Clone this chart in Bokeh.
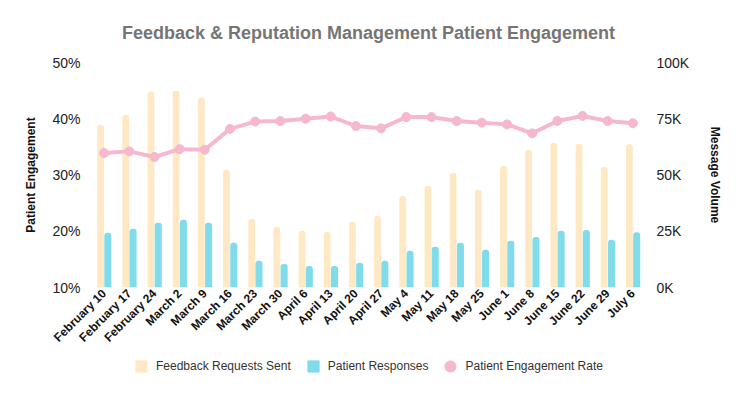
import math
from bokeh.plotting import figure
from bokeh.layouts import column
from bokeh.models import (FactorRange, Range1d, LinearAxis, FixedTicker, Legend,
                          LegendItem, ColumnDataSource, PrintfTickFormatter)
from bokeh.transform import dodge
from bokeh.embed import file_html
from bokeh.resources import INLINE

weeks = ["February 10", "February 17", "February 24", "March 2", "March 9", "March 16",
         "March 23", "March 30", "April 6", "April 13", "April 20", "April 27",
         "May 4", "May 11", "May 18", "May 25", "June 1", "June 8", "June 15",
         "June 22", "June 29", "July 6"]
requests_sent = [72300, 76700, 87000, 87400, 84300, 52300, 30500, 27000, 25200, 24700,
                 29200, 31900, 40700, 45200, 51000, 43400, 54100, 61200, 64300, 63900,
                 53600, 63700]
responses = [24300, 26100, 28800, 30100, 28800, 19900, 11900, 10500, 9600, 9600,
             11000, 11900, 16300, 18100, 19900, 16800, 20800, 22500, 25200, 25600,
             21200, 24600]
engagement = [33.9, 34.2, 33.2, 34.6, 34.5, 38.2, 39.5, 39.6, 40.0, 40.4,
              38.7, 38.3, 40.3, 40.3, 39.6, 39.3, 39.0, 37.4, 39.6, 40.5,
              39.6, 39.2]
pct_ticks = [10, 20, 30, 40, 50]
vol_ticks = [0, 25000, 50000, 75000, 100000]
vol_labels = ["0K", "25K", "50K", "75K", "100K"]
series_names = ["Feedback Requests Sent", "Patient Responses", "Patient Engagement Rate"]

ORANGE = "#FEE9C4"
BLUE = "#80DBEB"
PINK = "#F6B8CF"
FONT = "Liberation Sans"

src = ColumnDataSource(dict(week=weeks, req=requests_sent, resp=responses, eng=engagement))

p = figure(width=742, height=352, x_range=FactorRange(factors=weeks),
           y_range=Range1d(10, 50), output_backend="svg", toolbar_location=None,
           min_border_left=91, min_border_right=97, min_border_top=62, min_border_bottom=65)
p.extra_y_ranges = {"vol": Range1d(0, 100000)}
p.outline_line_color = None
p.xgrid.grid_line_color = None
p.ygrid.grid_line_color = None

p.title.text = "Feedback & Reputation Management Patient Engagement"
p.title.align = "center"
p.title.text_font = FONT
p.title.text_font_size = "18px"
p.title.text_font_style = "bold"
p.title.text_color = "#757575"
p.title.standoff = 39

p.vbar(x=dodge("week", -0.14, range=p.x_range), top="req", width=0.27, source=src,
       y_range_name="vol", fill_color=ORANGE, line_color=None, border_radius=(3, 3, 0, 0))
p.vbar(x=dodge("week", 0.15, range=p.x_range), top="resp", width=0.28, source=src,
       y_range_name="vol", fill_color=BLUE, line_color=None, border_radius=(3, 3, 0, 0))
p.line(x="week", y="eng", source=src, line_color=PINK, line_width=4)
p.scatter(x="week", y="eng", source=src, size=9, fill_color=PINK, line_color=PINK)

# left axis
ax = p.yaxis[0]
ax.ticker = FixedTicker(ticks=pct_ticks)
ax.formatter = PrintfTickFormatter(format="%d%%")
ax.axis_label = "Patient Engagement"

# right axis
rax = LinearAxis(y_range_name="vol", axis_label="Message Volume",
                 ticker=FixedTicker(ticks=vol_ticks),
                 major_label_overrides={t: l for t, l in zip(vol_ticks, vol_labels)})
p.add_layout(rax, "right")

for a in (ax, rax):
    a.axis_line_color = None
    a.major_tick_line_color = None
    a.minor_tick_line_color = None
    a.major_tick_out = 0
    a.major_label_standoff = 11
    a.major_label_text_font = FONT
    a.major_label_text_font_size = "14px"
    a.major_label_text_color = "#222222"
    a.axis_label_text_font = FONT
    a.axis_label_text_font_size = "12px"
    a.axis_label_text_font_style = "bold"
    a.axis_label_text_color = "#111111"
ax.axis_label_standoff = 11
rax.axis_label_standoff = 16

xa = p.xaxis[0]
xa.axis_line_color = None
xa.major_tick_line_color = None
xa.minor_tick_line_color = None
xa.major_tick_out = 0
xa.major_label_standoff = 4
xa.major_label_orientation = math.pi / 4
xa.major_label_text_font = FONT
xa.major_label_text_font_size = "12px"
xa.major_label_text_font_style = "bold"
xa.major_label_text_color = "#111111"

# legend strip below the chart (its frame is aligned with the chart's frame)
lg = figure(width=742, height=42, x_range=p.x_range, y_range=Range1d(0, 1),
            output_backend="svg", toolbar_location=None, min_border=0,
            x_axis_location=None, y_axis_location=None)
lg.outline_line_color = None
lg.xgrid.grid_line_color = None
lg.ygrid.grid_line_color = None
# key renderers: their points fall outside this strip's range, only the legend keys show
k1 = lg.scatter(x="week", y="eng", source=src, marker="square", fill_color=ORANGE, line_color=ORANGE)
k2 = lg.scatter(x="week", y="eng", source=src, marker="square", fill_color=BLUE, line_color=BLUE)
k3 = lg.scatter(x="week", y="eng", source=src, marker="circle", fill_color=PINK, line_color=PINK)
legend = Legend(items=[LegendItem(label=n, renderers=[r]) for n, r in zip(series_names, [k1, k2, k3])],
                orientation="horizontal", location=(36, 14),
                glyph_width=28, glyph_height=28, label_standoff=1, spacing=8,
                label_text_font=FONT, label_text_font_size="12px",
                label_text_color="#333333", border_line_color=None,
                background_fill_alpha=0, padding=0, margin=0)
lg.add_layout(legend, "center")

open("out.html", "w").write(file_html(column(p, lg, spacing=0), INLINE))
